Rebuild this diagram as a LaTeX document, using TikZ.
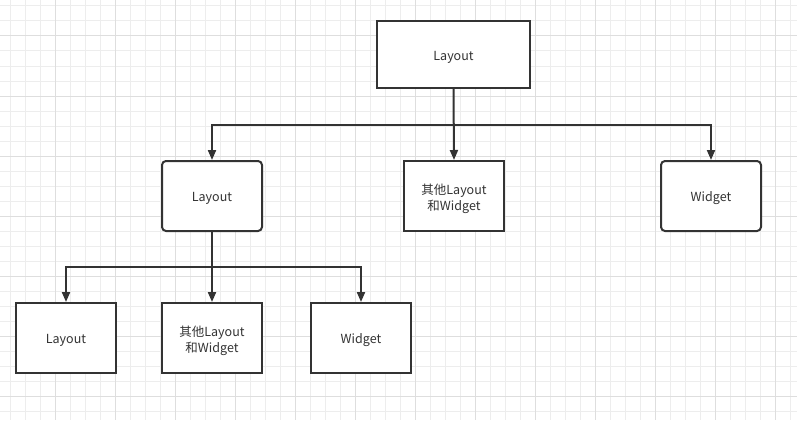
\documentclass[tikz,border=0pt]{standalone}
\usepackage{fontspec}
\setmainfont{Noto Sans CJK SC}
\usetikzlibrary{arrows.meta}
\definecolor{minorgrid}{HTML}{EDEDED}
\definecolor{majorgrid}{HTML}{DEDEDE}
\definecolor{ink}{HTML}{333333}
\begin{document}
\begin{tikzpicture}[x=1pt,y=-1pt,
  box/.style={draw=ink,line width=2pt,fill=white,minimum width=100pt,minimum height=70pt,inner sep=0pt,align=center,text=ink,font=\fontsize{12.5}{16}\selectfont,
    label={[text=ink,font=\fontsize{12.5}{16}\selectfont,align=center,yshift=-2.5pt]center:#1}},
  rbox/.style={box=#1,rounded corners=4pt},
  conn/.style={draw=ink,line width=2pt,-{Triangle[length=10pt,width=8pt]}}]
\useasboundingbox (0,0) rectangle (797,420);
\fill[white] (0,0) rectangle (797,420);
\foreach \x in {10,25,...,796} \draw[minorgrid,line width=1pt] (\x,0) -- (\x,420);
\foreach \y in {6,21,...,419} \draw[minorgrid,line width=1pt] (0,\y) -- (797,\y);
\foreach \x in {55,115,...,796} \draw[majorgrid,line width=1pt] (\x,0) -- (\x,420);
\foreach \y in {36,96,...,419} \draw[majorgrid,line width=1pt] (0,\y) -- (797,\y);

\node[box={Layout},minimum width=153pt,minimum height=67pt] (root) at (453.5,54.5) {};
\node[rbox={Layout}] (l1) at (212,196) {};
\node[box={其他Layout\\和Widget}] (o1) at (454,196) {};
\node[rbox={Widget}] (w1) at (711,196) {};
\node[box={Layout}] (l2) at (66,338) {};
\node[box={其他Layout\\和Widget}] (o2) at (212,338) {};
\node[box={Widget}] (w2) at (361,338) {};

\coordinate (b1) at (454,125);
\coordinate (b2) at (212,267);
\draw[conn] (root.south) -- (o1.north);
\draw[conn] (b1) -| (l1.north);
\draw[conn] (b1) -| (w1.north);
\draw[conn] (l1.south) -- (o2.north);
\draw[conn] (b2) -| (l2.north);
\draw[conn] (b2) -| (w2.north);
\end{tikzpicture}
\end{document}
